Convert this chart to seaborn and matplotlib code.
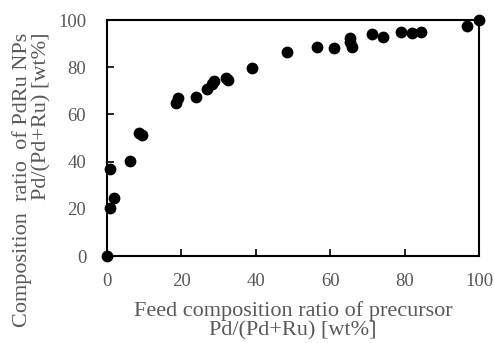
import matplotlib
matplotlib.use("Agg")
import matplotlib.pyplot as plt
import seaborn as sns
import pandas as pd

feed = [0.0, 0.9, 2.0, 0.9, 6.3, 8.7, 9.5, 18.4, 19.1, 23.8, 26.9, 28.1, 28.8,
        31.9, 32.4, 39.0, 48.3, 56.3, 61.0, 65.2, 65.2, 65.9, 71.2, 74.0,
        78.9, 81.8, 84.4, 96.6, 100.0]
nps = [0.0, 20.2, 24.4, 36.9, 40.3, 52.0, 51.3, 64.7, 66.8, 67.5, 70.6, 72.9, 74.3,
       75.3, 74.6, 79.5, 86.3, 88.7, 88.3, 92.2, 90.8, 88.4, 94.1, 92.7,
       94.8, 94.6, 94.8, 97.5, 100.0]
ticks = [0, 20, 40, 60, 80, 100]

df = pd.DataFrame({"feed": feed, "nps": nps})

sns.set_theme(style="ticks")
plt.rcParams["font.family"] = ["Liberation Serif", "DejaVu Serif"]

fig = plt.figure(figsize=(4.94, 3.43), dpi=100)
ax = fig.add_axes([0.2166, 0.2536, 0.754, 0.688])
sns.scatterplot(data=df, x="feed", y="nps", ax=ax, color="black", s=72,
                edgecolor="black", linewidth=0, clip_on=False, zorder=5)

ax.set_xlim(0, 100)
ax.set_ylim(0, 100)
ax.set_xticks(ticks)
ax.set_yticks(ticks)
gray = "#595959"
ax.tick_params(direction="in", length=5, width=1.2, color="black",
               labelsize=13.5, labelcolor=gray)
ax.tick_params(axis="y", pad=15)
ax.tick_params(axis="x", pad=12)
for sp in ax.spines.values():
    sp.set_linewidth(1.5)
    sp.set_color("black")
    sp.set_visible(True)

ax.set_xlabel("Feed composition ratio of precursor\nPd/(Pd+Ru) [wt%]",
              fontsize=16, color=gray, linespacing=1.05)
ax.xaxis.set_label_coords(0.5, -0.19)
ax.set_ylabel("Composition  ratio  of PdRu NPs\nPd/(Pd+Ru) [wt%]",
              fontsize=16, color=gray, linespacing=1.0,
              multialignment="right")
ax.yaxis.set_label_coords(-0.15, 0.323)

fig.savefig("out.png", dpi=100)
